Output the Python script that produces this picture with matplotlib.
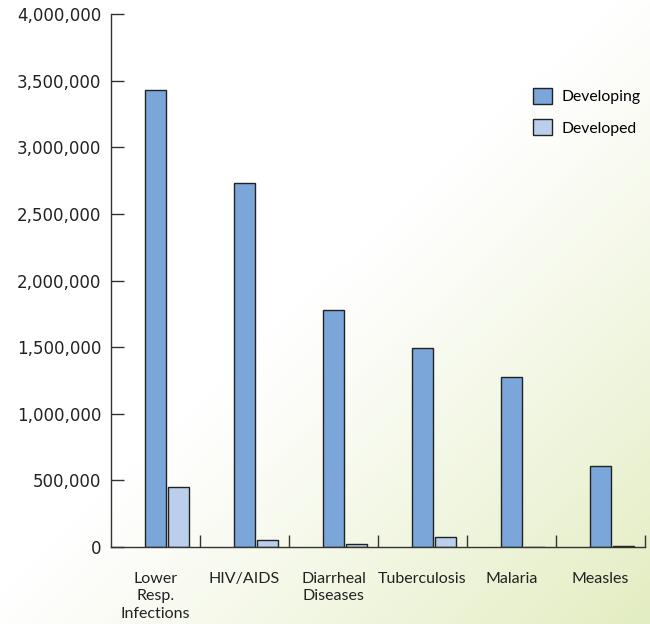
import numpy as np
import matplotlib.pyplot as plt
from matplotlib.patches import Patch

categories = ["Lower\nResp.\nInfections", "HIV/AIDS", "Diarrheal\nDiseases",
              "Tuberculosis", "Malaria", "Measles"]
developing = [3430000, 2730000, 1780000, 1490000, 1275000, 605000]
developed = [450000, 50000, 20000, 75000, 3000, 6000]
yticks = [0, 500000, 1000000, 1500000, 2000000, 2500000, 3000000, 3500000, 4000000]

c_dev = "#7BA6D9"
c_ded = "#BACFEC"
edge = "#222222"
lab_font = "Lato"

fig = plt.figure(figsize=(6.5, 6.24), dpi=100)

# background gradient: white over most of the page, pale green toward bottom-right
bg = fig.add_axes([0, 0, 1, 1], zorder=-10)
yy, xx = np.mgrid[0:1:200j, 0:1:200j]
t = np.clip((xx + yy - 0.95) / 1.05, 0, 1) ** 1.1
c0 = np.array([1.0, 1.0, 1.0])
c1 = np.array([0.89, 0.93, 0.76])
img = c0 + (c1 - c0) * t[..., None]
bg.imshow(img, origin="upper", aspect="auto", extent=[0, 1, 0, 1])
bg.axis("off")

ax = fig.add_axes([111 / 650, 77 / 624, 534 / 650, 533 / 624])
ax.patch.set_alpha(0)

x = np.arange(len(categories))
w = 0.24
ax.bar(x + 0.38, developing, width=w, align="edge", color=c_dev,
       edgecolor=edge, linewidth=1, label="Developing")
ax.bar(x + 0.64, developed, width=w, align="edge", color=c_ded,
       edgecolor=edge, linewidth=1, label="Developed")

ax.set_xlim(0, len(categories))
ax.set_ylim(0, 4000000)

ax.set_yticks(yticks)
ax.set_yticklabels([f"{v:,}" for v in yticks], fontsize=12, color="#222222")
ax.tick_params(axis="y", direction="in", length=9, width=1, color="#333333", pad=7)

ax.set_xticks(np.arange(1, len(categories) + 1))
ax.set_xticklabels([])
ax.tick_params(axis="x", direction="in", length=9, width=1, color="#333333")
ax.set_xticks(x + 0.5, minor=True)
ax.set_xticklabels(categories, minor=True, fontsize=11.5, family=lab_font,
                   color="#222222", linespacing=1.3)
ax.tick_params(axis="x", which="minor", length=0, pad=18)

for s in ["top", "right"]:
    ax.spines[s].set_visible(False)
for s in ["left", "bottom"]:
    ax.spines[s].set_color("#333333")
    ax.spines[s].set_linewidth(1)

handles = [Patch(facecolor=c_dev, edgecolor=edge, label="Developing"),
           Patch(facecolor=c_ded, edgecolor=edge, label="Developed")]
fig.legend(handles=handles, loc="upper left",
           bbox_to_anchor=(533 / 650, 1 - 88 / 624),
           borderaxespad=0, borderpad=0, frameon=False,
           prop={"family": lab_font, "size": 11.3},
           handlelength=1.2, handleheight=1.2, handletextpad=0.6, labelspacing=0.95)

fig.savefig("out.png", dpi=100)
